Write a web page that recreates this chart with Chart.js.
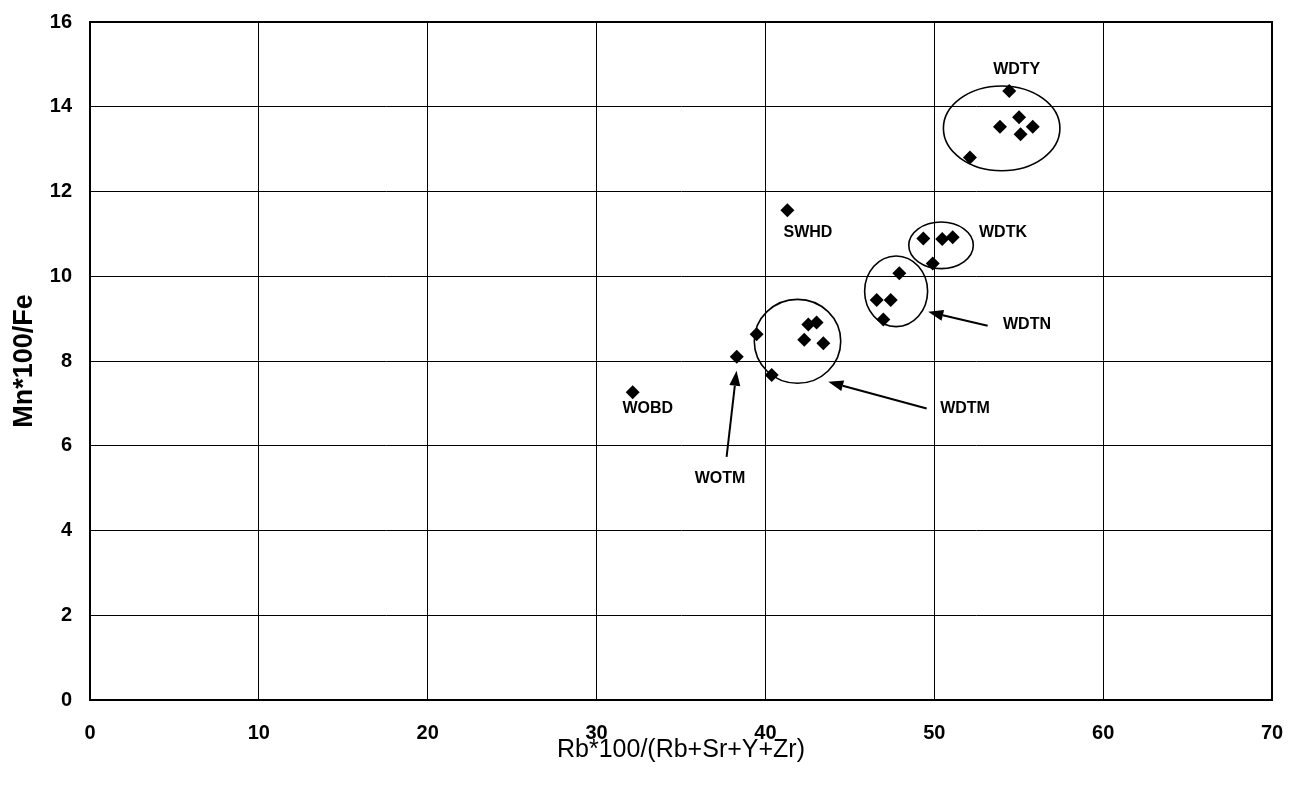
<!DOCTYPE html>
<html>
<head>
<meta charset="utf-8">
<script src="https://cdn.jsdelivr.net/npm/chart.js@4/dist/chart.umd.min.js"></script>
<style>
html,body{margin:0;padding:0;background:#fff;}
#wrap{width:1290px;height:786px;}
</style>
</head>
<body>
<div id="wrap"><canvas id="c" width="1290" height="786"></canvas></div>
<script>
// ---- data ----
const xValues = [54.44, 55.02, 53.89, 55.83, 55.11, 52.11,
                 41.30,
                 49.35, 50.47, 51.09, 49.91,
                 47.93, 46.59, 47.42, 46.98,
                 42.54, 43.03, 42.30, 43.43, 39.48, 40.37,
                 38.30,
                 32.14];
const yValues = [14.37, 13.75, 13.53, 13.53, 13.35, 12.80,
                 11.56,
                 10.89, 10.88, 10.92, 10.30,
                 10.07, 9.44, 9.44, 8.98,
                 8.86, 8.91, 8.50, 8.42, 8.63, 7.67,
                 8.10,
                 7.26];
const xTicks = [0, 10, 20, 30, 40, 50, 60, 70];
const yTicks = [0, 2, 4, 6, 8, 10, 12, 14, 16];
const xTitle = 'Rb*100/(Rb+Sr+Y+Zr)';
const yTitle = 'Mn*100/Fe';

// group annotations (data units)
const groupNames = ['WDTY', 'SWHD', 'WDTK', 'WDTN', 'WDTM', 'WOBD', 'WOTM'];
const labelX = [54.88, 42.52, 54.07, 55.49, 51.82, 33.03, 37.31];
const labelY = [14.88, 11.04, 11.04, 8.87, 6.87, 6.87, 5.22];
const ellipseCX = [53.99, 50.40, 47.74, 41.90];
const ellipseCY = [13.49, 10.73, 9.645, 8.465];
const ellipseRX = [3.45, 1.91, 1.865, 2.56];
const ellipseRY = [1.00, 0.55, 0.833, 0.99];
const arrowFromX = [53.16, 49.55, 37.70];
const arrowFromY = [8.83, 6.88, 5.74];
const arrowToX = [49.64, 43.72, 38.29];
const arrowToY = [9.16, 7.51, 7.77];

const points = xValues.map((x, i) => ({x: x, y: yValues[i]}));
const FONT = '"Liberation Sans", Arial, sans-serif';

const annotPlugin = {
  id: 'annot',
  afterDatasetsDraw(chart) {
    const ctx = chart.ctx;
    const xs = chart.scales.x, ys = chart.scales.y;
    ctx.save();
    ctx.strokeStyle = '#000';
    ctx.lineWidth = 1.6;
    for (let i = 0; i < ellipseCX.length; i++) {
      const cx = xs.getPixelForValue(ellipseCX[i]);
      const cy = ys.getPixelForValue(ellipseCY[i]);
      const rx = Math.abs(xs.getPixelForValue(ellipseCX[i] + ellipseRX[i]) - cx);
      const ry = Math.abs(ys.getPixelForValue(ellipseCY[i] + ellipseRY[i]) - cy);
      ctx.beginPath();
      ctx.ellipse(cx, cy, rx, ry, 0, 0, Math.PI * 2);
      ctx.stroke();
    }
    ctx.fillStyle = '#000';
    for (let i = 0; i < arrowFromX.length; i++) {
      const x1 = xs.getPixelForValue(arrowFromX[i]);
      const y1 = ys.getPixelForValue(arrowFromY[i]);
      const x2 = xs.getPixelForValue(arrowToX[i]);
      const y2 = ys.getPixelForValue(arrowToY[i]);
      const ang = Math.atan2(y2 - y1, x2 - x1);
      const hl = 15, hw = 5.5;
      const bx = x2 - hl * Math.cos(ang), by = y2 - hl * Math.sin(ang);
      ctx.lineWidth = 2;
      ctx.beginPath();
      ctx.moveTo(x1, y1);
      ctx.lineTo(bx, by);
      ctx.stroke();
      ctx.beginPath();
      ctx.moveTo(x2, y2);
      ctx.lineTo(bx + hw * Math.sin(ang), by - hw * Math.cos(ang));
      ctx.lineTo(bx - hw * Math.sin(ang), by + hw * Math.cos(ang));
      ctx.closePath();
      ctx.fill();
    }
    ctx.font = 'bold 16px ' + FONT;
    ctx.textAlign = 'center';
    ctx.textBaseline = 'middle';
    for (let i = 0; i < groupNames.length; i++) {
      ctx.fillText(groupNames[i], xs.getPixelForValue(labelX[i]), ys.getPixelForValue(labelY[i]));
    }
    ctx.restore();
  },
  afterDraw(chart) {
    const a = chart.chartArea;
    const ctx = chart.ctx;
    ctx.save();
    ctx.strokeStyle = '#000';
    ctx.lineWidth = 2;
    ctx.strokeRect(a.left, a.top, a.right - a.left, a.bottom - a.top);
    ctx.restore();
  }
};

new Chart(document.getElementById('c'), {
  type: 'scatter',
  data: {
    datasets: [{
      data: points,
      pointStyle: 'rectRot',
      pointRadius: 7,
      pointBackgroundColor: '#000',
      pointBorderColor: '#000',
      pointBorderWidth: 0
    }]
  },
  plugins: [annotPlugin],
  options: {
    responsive: false,
    animation: false,
    devicePixelRatio: 1,
    layout: {autoPadding: false, padding: {top: 22, right: 18, left: 0, bottom: 0}},
    plugins: {legend: {display: false}, tooltip: {enabled: false}},
    scales: {
      x: {
        type: 'linear',
        min: 0, max: 70,
        afterBuildTicks: (s) => { s.ticks = xTicks.map(v => ({value: v})); },
        afterFit: (s) => { s.height = 86; s.paddingLeft = 0; s.paddingRight = 0; },
        grid: {color: '#000', lineWidth: 1, drawTicks: false},
        border: {color: '#000', width: 2},
        ticks: {color: '#000', padding: 21, font: {family: FONT, size: 20, weight: 'bold'}},
        title: {display: true, text: xTitle, color: '#000', padding: {top: 0, bottom: 21},
                font: {family: FONT, size: 25}}
      },
      y: {
        type: 'linear',
        min: 0, max: 16,
        afterBuildTicks: (s) => { s.ticks = yTicks.map(v => ({value: v})); },
        afterFit: (s) => { s.width = 90; s.paddingTop = 0; s.paddingBottom = 0; },
        grid: {color: '#000', lineWidth: 1, drawTicks: false},
        border: {color: '#000', width: 2},
        ticks: {color: '#000', padding: 18, font: {family: FONT, size: 20, weight: 'bold'}},
        title: {display: true, text: yTitle, color: '#000', padding: {top: 8, bottom: 0},
                font: {family: FONT, size: 27, weight: 'bold'}}
      }
    }
  }
});
</script>
</body>
</html>
